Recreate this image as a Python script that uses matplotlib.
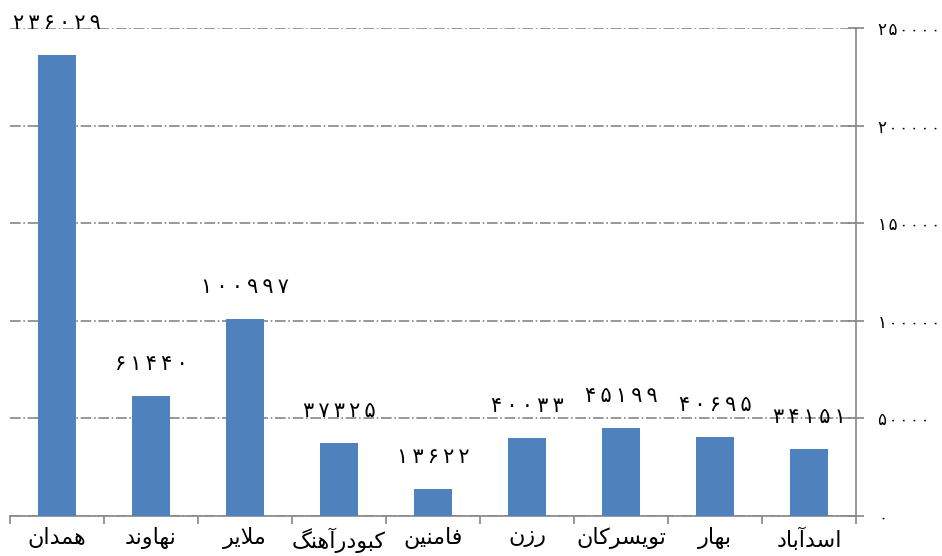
import numpy as np
import matplotlib
matplotlib.use('Agg')
import matplotlib.pyplot as plt
from matplotlib.ticker import FuncFormatter, FixedLocator

# داده‌ها
cities = ['همدان', 'نهاوند', 'ملایر', 'کبودرآهنگ', 'فامنین', 'رزن', 'تویسرکان', 'بهار', 'اسدآباد']
values = [236029, 61440, 100997, 37325, 13622, 40033, 45199, 40695, 34151]
y_ticks = [0, 50000, 100000, 150000, 200000, 250000]

# شکل‌دهی ساده حروف فارسی (matplotlib اتصال حروف را انجام نمی‌دهد)
FORMS = {
    'ا': (0xFE8D, 0xFE8E, None, None), 'آ': (0xFE81, 0xFE82, None, None),
    'ب': (0xFE8F, 0xFE90, 0xFE91, 0xFE92), 'ت': (0xFE95, 0xFE96, 0xFE97, 0xFE98),
    'د': (0xFEA9, 0xFEAA, None, None), 'ر': (0xFEAD, 0xFEAE, None, None),
    'ز': (0xFEAF, 0xFEB0, None, None), 'س': (0xFEB1, 0xFEB2, 0xFEB3, 0xFEB4),
    'ف': (0xFED1, 0xFED2, 0xFED3, 0xFED4), 'ک': (0xFB8E, 0xFB8F, 0xFB90, 0xFB91),
    'گ': (0xFB92, 0xFB93, 0xFB94, 0xFB95), 'ل': (0xFEDD, 0xFEDE, 0xFEDF, 0xFEE0),
    'م': (0xFEE1, 0xFEE2, 0xFEE3, 0xFEE4), 'ن': (0xFEE5, 0xFEE6, 0xFEE7, 0xFEE8),
    'ه': (0xFEE9, 0xFEEA, 0xFEEB, 0xFEEC), 'و': (0xFEED, 0xFEEE, None, None),
    'ی': (0xFBFC, 0xFBFD, 0xFBFE, 0xFBFF),
}


def shape(word):
    letters = []
    i = 0
    while i < len(word):
        if word[i] == 'ل' and i + 1 < len(word) and word[i + 1] == 'ا':
            letters.append('لا')
            i += 2
        else:
            letters.append(word[i])
            i += 1
    out = []
    for k, ch in enumerate(letters):
        prev = letters[k - 1] if k > 0 else None
        nxt = letters[k + 1] if k + 1 < len(letters) else None
        join_prev = prev is not None and prev in FORMS and FORMS[prev][2] is not None
        join_next = nxt is not None and (nxt in FORMS or nxt == 'لا') and ch in FORMS and FORMS[ch][2] is not None
        if ch == 'لا':
            out.append(chr(0xFEFC if join_prev else 0xFEFB))
            continue
        if ch not in FORMS:
            out.append(ch)
            continue
        iso, fin, ini, med = FORMS[ch]
        if join_prev and join_next:
            out.append(chr(med))
        elif join_prev:
            out.append(chr(fin))
        elif join_next:
            out.append(chr(ini))
        else:
            out.append(chr(iso))
    return ''.join(reversed(out))


def fa_digits(n, sep='\u2009'):
    s = str(n).translate(str.maketrans('0123456789', '۰۱۲۳۴۵۶۷۸۹'))
    return sep.join(s)


plt.rcParams['font.family'] = ['DejaVu Sans']

fig = plt.figure(figsize=(9.42, 5.56), dpi=100)
ax = fig.add_axes([10 / 942, 1 - 516 / 556, 846 / 942, 488 / 556])

x = np.arange(len(cities))
bars = ax.bar(x, values, width=0.4, color='#4F81BD', zorder=3)

for xi, v in zip(x, values):
    ax.annotate(fa_digits(v), (xi, v), xytext=(0, 23), textcoords='offset points',
                ha='center', va='center', fontsize=15, color='black', zorder=4)

ax.set_xlim(-0.5, len(cities) - 0.5)
ax.set_ylim(0, 250000)

ax.yaxis.tick_right()
ax.set_yticks(y_ticks)
ax.yaxis.set_major_formatter(FuncFormatter(lambda v, p: fa_digits(int(v), '\u200a')))
ax.tick_params(axis='y', direction='inout', length=12, width=1.2, color='#868686',
               labelsize=12, pad=10)

ax.set_xticks(x)
ax.set_xticklabels([shape(c) for c in cities], fontsize=16)
ax.tick_params(axis='x', which='major', length=0, pad=8)
ax.xaxis.set_minor_locator(FixedLocator(np.arange(-0.5, len(cities), 1.0)))
ax.tick_params(axis='x', which='minor', direction='out', length=6, width=1.2, color='#868686')

ax.grid(axis='y', linestyle='-.', color='#868686', linewidth=1.2, zorder=0)

for side in ['top', 'left']:
    ax.spines[side].set_visible(False)
ax.spines['right'].set_color('#868686')
ax.spines['bottom'].set_color('#868686')
ax.spines['right'].set_linewidth(1.2)
ax.spines['bottom'].set_linewidth(1.2)

fig.savefig('out.png', dpi=100)
